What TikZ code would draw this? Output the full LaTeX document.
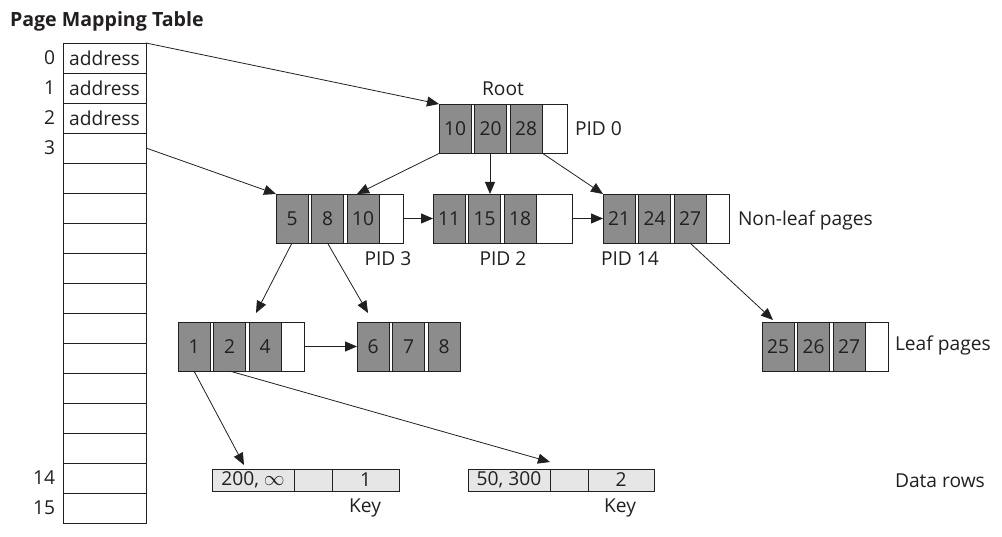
\documentclass[tikz,border=0pt]{standalone}
\usepackage{fontspec}
\setmainfont{Open Sans}
\usetikzlibrary{arrows.meta}
\definecolor{cellgray}{HTML}{8C8C8C}
\definecolor{rowgray}{HTML}{E6E6E6}
\definecolor{ink}{HTML}{231F20}
\tikzset{
  base/.style={inner sep=0pt, outer sep=0pt, font=\fontsize{19.2}{21}\selectfont, text=ink},
  pagebox/.style={base, draw=ink, line width=0.9pt, fill=white, anchor=north west, minimum height=49pt},
  cellbox/.style={base, draw=ink, line width=0.9pt, fill=cellgray, anchor=north west, minimum width=32pt, minimum height=49pt},
  rowbox/.style={base, draw=ink, line width=0.9pt, fill=white, anchor=north west, minimum width=83pt, minimum height=30pt},
  datacell/.style={base, draw=ink, line width=0.9pt, fill=rowgray, anchor=north west, minimum height=22pt},
  lbl/.style={base},
  conn/.style={draw=ink, line width=0.8pt, -{Triangle[length=12pt,width=10pt]}},
}
\newcommand{\treepage}[7]{%
  \node[pagebox, minimum width=#4pt] (#1) at (#2,#3) {};
  \node[cellbox] (#1-1) at (#2,#3) {#5};
  \node[cellbox] (#1-2) at ([xshift=35.5pt]#1-1.north west) {#6};
  \node[cellbox] (#1-3) at ([xshift=35.5pt]#1-2.north west) {#7};
}
\begin{document}
\begin{tikzpicture}[x=1pt,y=-1pt]
\useasboundingbox (0,0) rectangle (1002,537);
% title
\node[base, font=\fontsize{19.6}{21}\selectfont\bfseries, anchor=base west] (title) at (10,27) {Page Mapping Table};
% mapping table
\foreach \i in {0,...,15} {
  \node[rowbox] (row\i) at (63,{43+30*\i}) {};
}
\node[base] at (row0) {address};
\node[base] at (row1) {address};
\node[base] at (row2) {address};
\foreach \i in {0,1,2,3} {
  \node[lbl, anchor=east] (lab\i) at ([xshift=-8pt]row\i.west) {\i};
}
\node[lbl, anchor=east] (lab14) at ([xshift=-8pt]row14.west) {14};
\node[lbl, anchor=east] (lab15) at ([xshift=-8pt]row15.west) {15};
% tree pages
\treepage{root}{439}{104}{128}{10}{20}{28}
\treepage{pidthree}{276}{194}{127}{5}{8}{10}
\treepage{pidtwo}{433}{194}{139}{11}{15}{18}
\treepage{pidfourteen}{603}{194}{126}{21}{24}{27}
\treepage{leafa}{178}{322}{126}{1}{2}{4}
\treepage{leafb}{357}{322}{103}{6}{7}{8}
\treepage{leafc}{762}{322}{126}{25}{26}{27}
% labels
\node[lbl] (rootlbl) at (503,89) {Root};
\node[lbl, anchor=west] (pid0) at (575,129) {PID 0};
\node[lbl] (pid3) at (388,259) {PID 3};
\node[lbl] (pid2) at (503,259) {PID 2};
\node[lbl] (pid14) at (630,259) {PID 14};
\node[lbl, anchor=west] (nonleaf) at (738,220) {Non-leaf pages};
\node[lbl, anchor=west] (leaflbl) at (895,345) {Leaf pages};
\node[lbl, anchor=west] (datalbl) at (895,481) {Data rows};
% data rows
\node[datacell, minimum width=82pt] (dataa-1) at (212,469) {200, $\infty$};
\node[datacell, minimum width=38pt] (dataa-2) at (294,469) {};
\node[datacell, minimum width=67pt] (dataa-3) at (332,469) {1};
\node[datacell, minimum width=82pt] (datab-1) at (468,469) {50, 300};
\node[datacell, minimum width=38pt] (datab-2) at (550,469) {};
\node[datacell, minimum width=66pt] (datab-3) at (588,469) {2};
\node[lbl] (keya) at (365,508) {Key};
\node[lbl] (keyb) at (620,508) {Key};
% connectors
\draw[conn] (row0.north east) -- (root.north west);
\draw[conn] (row3.east) -- (pidthree.north west);
\draw[conn] ([xshift=1pt]root-1.south west) -- ([xshift=10pt]pidthree-3.north west);
\draw[conn] ([xshift=-0.5pt]root-2.south) -- ([xshift=-0.5pt]root-2.south |- pidtwo.north);
\draw[conn] (root-3.south east) -- (pidfourteen.north west);
\draw[conn] (pidthree.east) -- (pidtwo.west);
\draw[conn] (pidtwo.east) -- (pidfourteen.west);
\draw[conn] (pidthree-1.south) -- ([xshift=7pt,yshift=9pt]leafa-3.north west);
\draw[conn] (pidthree-2.south) -- ([xshift=11pt,yshift=9pt]leafb-1.north west);
\draw[conn] (pidfourteen-3.south) -- ([xshift=11pt,yshift=2pt]leafc-1.north west);
\draw[conn] (leafa.east) -- (leafb.west);
\draw[conn] (leafa-1.south) -- ([xshift=32pt,yshift=4pt]dataa-1.north west);
\draw[conn] (leafa-2.south) -- ([xshift=0pt,yshift=7pt]datab-2.north west);
\end{tikzpicture}
\end{document}
